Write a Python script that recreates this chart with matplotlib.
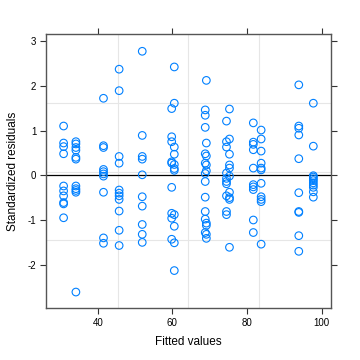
import numpy as np
import matplotlib
matplotlib.use('Agg')
import matplotlib.pyplot as plt

plt.rcParams['font.family'] = ['Liberation Sans', 'DejaVu Sans']
plt.rcParams['axes.unicode_minus'] = False

# fitted value columns and their standardized residuals
fit_a = 30.8
res_a = [1.10, 0.72, 0.64, 0.48, -0.24, -0.35, -0.46, -0.61, -0.64, -0.95]
fit_b = 34.1
res_b = [0.75, 0.70, 0.62, 0.56, 0.40, 0.36, -0.24, -0.30, -0.34, -0.38, -2.61]
fit_c = 41.5
res_c = [1.72, 0.66, 0.62, 0.13, 0.08, 0.03, -0.02, -0.38, -1.40, -1.52]
fit_d = 45.7
res_d = [2.37, 1.89, 0.42, 0.27, -0.33, -0.40, -0.46, -0.54, -0.80, -1.23, -1.57]
fit_e = 51.9
res_e = [2.77, 0.89, 0.42, 0.36, 0.01, -0.48, -0.69, -1.10, -1.32, -1.50]
fit_f1 = 59.8
res_f1 = [1.49, 0.86, 0.75, 0.30, 0.27, -0.27, -0.85, -0.96, -1.43]
fit_f2 = 60.5
res_f2 = [2.42, 1.61, 0.63, 0.47, 0.24, 0.15, 0.11, -0.88, -1.14, -1.51, -2.13]
fit_g1 = 68.8
res_g1 = [1.46, 1.34, 1.07, 0.48, 0.27, 0.04, -0.14, -0.49, -0.81, -0.98, -1.28]
fit_g2 = 69.1
res_g2 = [2.12, 0.72, 0.43, 0.23, 0.10, -1.07, -1.12, -1.32, -1.41]
fit_h1 = 74.5
res_h1 = [1.21, 0.75, 0.63, 0.05, -0.07, -0.14, -0.19, -0.46, -0.81, -0.88]
fit_h2 = 75.3
res_h2 = [1.48, 0.81, 0.47, 0.23, 0.16, -0.02, -0.38, -0.50, -0.54, -1.61]
fit_i = 81.7
res_i = [1.17, 0.74, 0.69, 0.57, 0.16, -0.21, -0.26, -0.32, -1.00, -1.28]
fit_j = 83.8
res_j = [1.01, 0.81, 0.54, 0.27, 0.16, 0.12, -0.18, -0.48, -0.54, -0.59, -1.54]
fit_k = 93.9
res_k = [2.02, 1.10, 1.05, 0.90, 0.37, -0.39, -0.81, -0.83, -1.35, -1.70]
fit_l = 97.8
res_l = [1.61, 0.65, -0.01, -0.04, -0.08, -0.12, -0.17, -0.22, -0.27, -0.37, -0.49]

groups = [(fit_a, res_a), (fit_b, res_b), (fit_c, res_c), (fit_d, res_d),
          (fit_e, res_e), (fit_f1, res_f1), (fit_f2, res_f2), (fit_g1, res_g1),
          (fit_g2, res_g2), (fit_h1, res_h1), (fit_h2, res_h2), (fit_i, res_i),
          (fit_j, res_j), (fit_k, res_k), (fit_l, res_l)]

grid_x = [45.3, 64.3, 83.3]
grid_y = [-1.45, 0.08, 1.61]
x_ticks = [40, 60, 80, 100]
y_ticks = [-2, -1, 0, 1, 2, 3]

fig = plt.figure(figsize=(3.6, 3.6), dpi=100)
ax = fig.add_axes([0.128, 0.144, 0.791, 0.762])

for gx in grid_x:
    ax.axvline(gx, color='#e6e6e6', lw=0.8, zorder=0)
for gy in grid_y:
    ax.axhline(gy, color='#e6e6e6', lw=0.8, zorder=0)
ax.axhline(0, color='black', lw=0.9, zorder=1)

xs = np.concatenate([[f] * len(r) for f, r in groups])
ys = np.concatenate([r for f, r in groups])
ax.scatter(xs, ys, s=30, facecolors='none', edgecolors='#0080ff', linewidths=0.8, zorder=2)

ax.set_xlim(26.1, 102.5)
ax.set_ylim(-2.97, 3.16)
ax.set_xticks(x_ticks)
ax.set_yticks(y_ticks)
ax.tick_params(direction='out', length=4, width=0.8, color='#333333', labelsize=7,
               top=True, right=True, labeltop=False, labelright=False, pad=3)
for s in ax.spines.values():
    s.set_color('#555555')
    s.set_linewidth(1.0)

ax.set_xlabel('Fitted values', fontsize=8.5, labelpad=6)
ax.set_ylabel('Standardized residuals', fontsize=8.5, labelpad=6)

fig.savefig('out.png', dpi=100)
